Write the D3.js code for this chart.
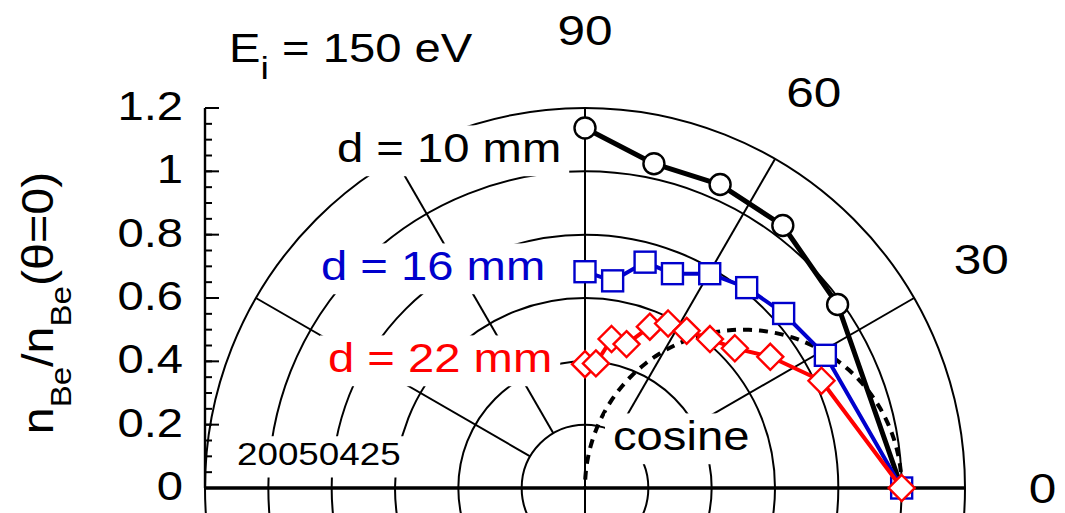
<!DOCTYPE html>
<html>
<head>
<meta charset="utf-8">
<script src="https://cdn.jsdelivr.net/npm/d3@7"></script>
<style>
  html, body { margin: 0; padding: 0; background: #fff; }
  svg { display: block; }
  text { font-family: "Liberation Sans", Arial, sans-serif; }
</style>
</head>
<body>
<svg id="chart" width="1065" height="513"></svg>
<script>
// ---------------- data (angle in degrees, normalised density) ----------------
const angles10 = [90, 78, 66, 53, 36, 0];
const values10 = [1.137, 1.047, 1.049, 1.038, 0.986, 1.0];

const angles16 = [90, 82.4, 75.1, 67.8, 59.8, 51.1, 41.3, 28.9, 0];
const values16 = [0.683, 0.660, 0.738, 0.731, 0.783, 0.813, 0.835, 0.867, 1.0];

const angles22 = [90, 85, 79.9, 73.9, 68.1, 63.2, 57.1, 50, 43, 35.3, 24.4, 0];
const values22 = [0.391, 0.395, 0.478, 0.473, 0.549, 0.582, 0.591, 0.614, 0.647, 0.717, 0.820, 1.0];

const radialTicks = [0, 0.2, 0.4, 0.6, 0.8, 1, 1.2];
const radialTickLabels = ["0", "0.2", "0.4", "0.6", "0.8", "1", "1.2"];
const gridRadii = [0.2, 0.4, 0.6, 0.8, 1.0, 1.2];
const spokeAngles = [30, 60, 120, 150];
const angleLabels = [90, 60, 30, 0];
// cosine reference curve sampled at these angles (r = cos θ)
const cosineAngles = d3.range(0, 90.5, 1);

// ---------------- layout ----------------
const svg = d3.select("#chart");
const cx = 585, cy = 488;
const rScale = d3.scaleLinear().domain([0, 1.2]).range([0, 380]);
const yScale = d3.scaleLinear().domain([0, 1.2]).range([cy, cy - 380]);
const toRad = d => d * Math.PI / 180;
const px = (a, r) => cx + rScale(r) * Math.cos(toRad(a));
const py = (a, r) => cy - rScale(r) * Math.sin(toRad(a));
const SX = 1.18; // horizontal glyph stretch of the original font

function label(parent, opt) {
  const size = opt.size || 40, sx = opt.sx || SX;
  const g = parent.append("g")
    .attr("transform", `translate(${opt.x},${opt.y})` + (opt.rot ? ` rotate(${opt.rot})` : "") + ` scale(${sx},1)`);
  const t = g.append("text")
    .attr("x", 0).attr("y", 0)
    .attr("font-size", size)
    .attr("fill", opt.color || "#000")
    .attr("text-anchor", opt.anchor || "start");
  const subSize = opt.subSize || size * 0.75, shift = opt.subShift || size * 0.42;
  (opt.parts || [{ t: opt.text }]).forEach(p => {
    if (p.sub) {
      t.append("tspan").attr("font-size", subSize).attr("dy", shift).text(p.t);
      t.append("tspan").attr("dy", -shift).text("\u200A").attr("font-size", 1);
    } else {
      t.append("tspan").text(p.t);
    }
  });
  if (opt.bg) {
    const bb = t.node().getBBox();
    const padX = 8 / sx;
    g.insert("rect", "text")
      .attr("x", bb.x - padX).attr("y", bb.y)
      .attr("width", bb.width + 2 * padX)
      .attr("height", bb.height + 6)
      .attr("fill", "#fff");
  }
  return g;
}

// ---------------- polar grid ----------------
const grid = svg.append("g").attr("stroke", "#000").attr("fill", "none");
grid.selectAll("circle").data(gridRadii).join("circle")
  .attr("cx", cx).attr("cy", cy).attr("r", d => rScale(d))
  .attr("stroke-width", 2);
grid.selectAll("line.spoke").data(spokeAngles).join("line")
  .attr("class", "spoke")
  .attr("x1", d => px(d, 0.2)).attr("y1", d => py(d, 0.2))
  .attr("x2", d => px(d, 1.2)).attr("y2", d => py(d, 1.2))
  .attr("stroke-width", 2);
// vertical (90°) line through the pole
grid.append("line")
  .attr("x1", px(90, 1.2)).attr("y1", py(90, 1.2))
  .attr("x2", cx).attr("y2", 520).attr("stroke-width", 2);
// baseline (0°/180°)
grid.append("line")
  .attr("x1", px(180, 1.2)).attr("y1", cy)
  .attr("x2", px(0, 1.2)).attr("y2", cy).attr("stroke-width", 3.4);

// ---------------- radial axis on the left ----------------
const axisX = px(180, 1.2);
const ax = svg.append("g").attr("stroke", "#000");
ax.append("line").attr("x1", axisX).attr("x2", axisX)
  .attr("y1", yScale(1.2)).attr("y2", yScale(0)).attr("stroke-width", 2.4);
const minorTicks = d3.range(0, 1.2001, 0.05);
ax.selectAll("line.minor").data(minorTicks).join("line").attr("class", "minor")
  .attr("x1", axisX).attr("x2", axisX + 7)
  .attr("y1", d => yScale(d)).attr("y2", d => yScale(d)).attr("stroke-width", 2);
ax.selectAll("line.major").data(radialTicks).join("line").attr("class", "major")
  .attr("x1", axisX).attr("x2", axisX + 14)
  .attr("y1", d => yScale(d)).attr("y2", d => yScale(d)).attr("stroke-width", 2);
radialTicks.forEach((v, i) => {
  label(svg, { x: 183, y: yScale(v) + 12, text: radialTickLabels[i], anchor: "end", size: 40 });
});

// ---------------- cosine reference ----------------
const lineXY = d3.line().x(d => px(d[0], d[1])).y(d => py(d[0], d[1]));
svg.append("path")
  .datum(cosineAngles.map(a => [a, Math.cos(toRad(a))]))
  .attr("d", lineXY)
  .attr("fill", "none").attr("stroke", "#000")
  .attr("stroke-width", 4).attr("stroke-dasharray", "9,7");

// ---------------- data series ----------------
const series = [
  { a: angles10, v: values10, color: "#000", lw: 5, marker: "circle" },
  { a: angles16, v: values16, color: "#0000cc", lw: 4, marker: "square" },
  { a: angles22, v: values22, color: "#ff0000", lw: 4, marker: "diamond" }
];
series.forEach(s => {
  const pts = s.a.map((a, i) => [a, s.v[i]]);
  svg.append("path").datum(pts).attr("d", lineXY)
    .attr("fill", "none").attr("stroke", s.color).attr("stroke-width", s.lw)
    .attr("stroke-linejoin", "round");
  const mg = svg.append("g").attr("fill", "#fff").attr("stroke", s.color).attr("stroke-width", 2.4);
  pts.forEach(p => {
    const x = px(p[0], p[1]), y = py(p[0], p[1]);
    if (s.marker === "circle") {
      mg.append("circle").attr("cx", x).attr("cy", y).attr("r", 10.5);
    } else if (s.marker === "square") {
      mg.append("rect").attr("x", x - 10.5).attr("y", y - 10.5).attr("width", 21).attr("height", 21);
    } else {
      const h = 13;
      mg.append("path").attr("d", `M${x},${y - h}L${x + h},${y}L${x},${y + h}L${x - h},${y}Z`);
    }
  });
});

// ---------------- labels ----------------
angleLabels.forEach(a => {
  label(svg, { x: px(a, 1.445), y: py(a, 1.445) + 15, text: String(a), anchor: "middle", size: 42 });
});
label(svg, { x: 229, y: 62, size: 40, subSize: 32, subShift: 17,
  parts: [{ t: "E" }, { t: "i", sub: true }, { t: " = 150 eV" }] });
label(svg, { x: 337, y: 162, text: "d = 10 mm", bg: true });
label(svg, { x: 321, y: 280, text: "d = 16 mm", color: "#0000cc", bg: true });
label(svg, { x: 328, y: 372, text: "d = 22 mm", color: "#ff0000", bg: true });
label(svg, { x: 613, y: 450, text: "cosine", bg: true });
label(svg, { x: 237, y: 465, text: "20050425", size: 32, sx: 1.15, bg: true });

// y-axis title (rotated)
label(svg, { x: 53, y: 303, rot: -90, anchor: "middle", size: 44, subSize: 30, subShift: 18, sx: 1.1,
  parts: [{ t: "n" }, { t: "Be", sub: true }, { t: "/n" }, { t: "Be", sub: true }, { t: "(\u03B8=0)" }] });
</script>
</body>
</html>
